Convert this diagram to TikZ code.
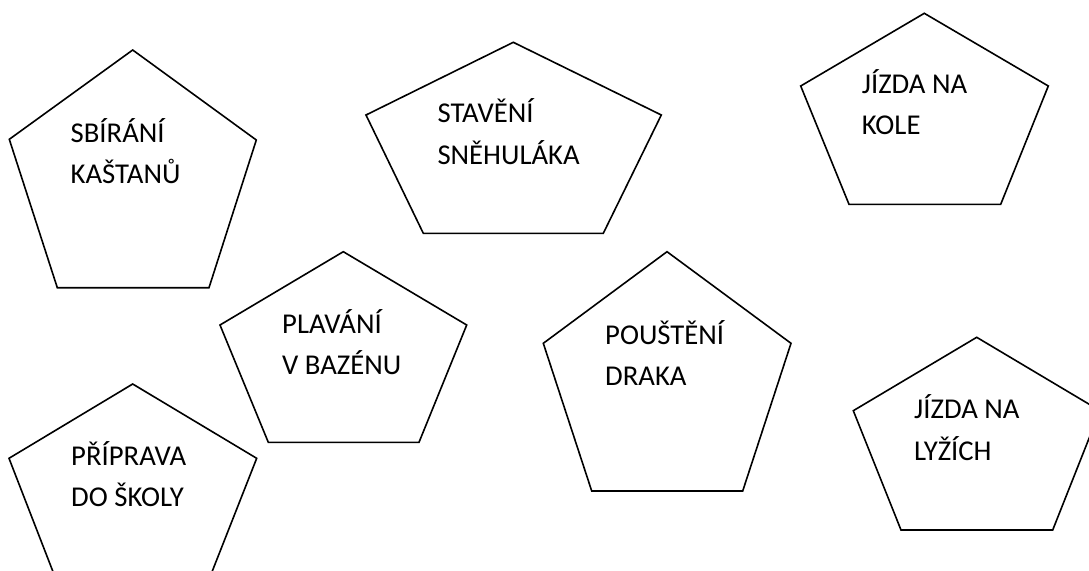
\documentclass[tikz,border=0pt]{standalone}
\usepackage{fontspec}
\setmainfont{Carlito}
\begin{document}
\begin{tikzpicture}[x=1pt,y=-1pt,
  penta/.style={draw=black,line width=1.6pt,fill=white},
  lbl/.style={anchor=base west,inner sep=0pt,font=\fontsize{28.7}{40.7}\selectfont}]
\useasboundingbox (0,0) rectangle (1089,570);
\clip (0,0) rectangle (1089,570);
% pentagons
\draw[penta] (132.7,50) -- (256.3,140) -- (209,287.7) -- (57.3,287.7) -- (9.3,139.3) -- cycle;
\draw[penta] (513.3,42.3) -- (661.3,115) -- (603.3,233.3) -- (423.3,233.3) -- (366,115) -- cycle;
\draw[penta] (924.3,13.3) -- (1048.3,86) -- (1000.7,204.3) -- (849,204.3) -- (800.7,86) -- cycle;
\draw[penta] (343.3,251.7) -- (466.7,325) -- (419,442.3) -- (268.3,442.3) -- (220,325) -- cycle;
\draw[penta] (132.7,384) -- (256.7,458.3) -- (208,582) -- (57,582) -- (9,458.3) -- cycle;
\draw[penta] (667,251.7) -- (791,343.3) -- (742.7,491) -- (591.7,491) -- (543.3,343.3) -- cycle;
\draw[penta] (976.7,337.3) -- (1100,410.7) -- (1052.7,530) -- (901,530) -- (853.3,410.7) -- cycle;
% labels
\node[lbl] (t1a) at (70.5,142.3) {SBÍRÁNÍ};
\node[lbl] (t1b) at (70.5,183.5) {KAŠTANŮ};
\node[lbl] (t2a) at (437.3,122.5) {STAVĚNÍ};
\node[lbl] (t2b) at (437.3,164) {SNĚHULÁKA};
\node[lbl] (t3a) at (861.7,93.5) {JÍZDA NA};
\node[lbl] (t3b) at (861.7,134.8) {KOLE};
\node[lbl] (t4a) at (282,333) {PLAVÁNÍ};
\node[lbl] (t4b) at (282,374) {V BAZÉNU};
\node[lbl] (t5a) at (71,465.8) {PŘÍPRAVA};
\node[lbl] (t5b) at (71,506.8) {DO ŠKOLY};
\node[lbl] (t6a) at (605,344.2) {POUŠTĚNÍ};
\node[lbl] (t6b) at (605,385.2) {DRAKA};
\node[lbl] (t7a) at (914,418.5) {JÍZDA NA};
\node[lbl] (t7b) at (914,460) {LYŽÍCH};
\end{tikzpicture}
\end{document}
